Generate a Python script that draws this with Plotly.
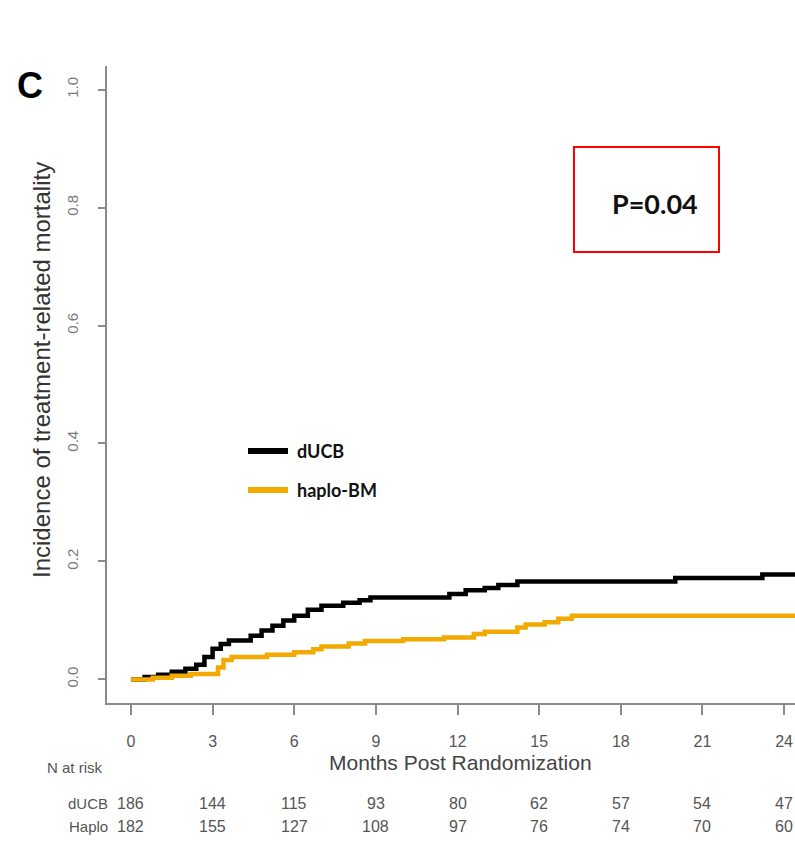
import plotly.graph_objects as go

# ---- data ----
ducb_t = [0, 0.5, 1.0, 1.5, 2.0, 2.4, 2.7, 3.0, 3.3, 3.6, 4.4, 4.8, 5.2, 5.6, 6.0, 6.5, 7.0, 7.8, 8.4, 8.8,
          11.7, 12.3, 13.0, 13.5, 14.2, 20.0, 23.2, 24.6]
ducb_v = [0, 0.004, 0.008, 0.013, 0.018, 0.025, 0.038, 0.052, 0.060, 0.066, 0.074, 0.083, 0.091, 0.100, 0.108,
          0.118, 0.125, 0.130, 0.134, 0.139, 0.145, 0.151, 0.155, 0.160, 0.166, 0.172, 0.178, 0.178]
haplo_t = [0, 0.8, 1.5, 2.2, 3.2, 3.4, 3.7, 5.0, 6.0, 6.7, 7.0, 8.0, 8.6, 10.0, 11.5, 12.6, 13.0, 14.2, 14.5,
           15.2, 15.7, 16.2, 24.6]
haplo_v = [0, 0.003, 0.006, 0.009, 0.020, 0.033, 0.038, 0.042, 0.046, 0.051, 0.056, 0.061, 0.065, 0.068, 0.071,
           0.077, 0.081, 0.088, 0.093, 0.097, 0.103, 0.108, 0.108]

x_ticks = [0, 3, 6, 9, 12, 15, 18, 21, 24]
y_ticks = [0.0, 0.2, 0.4, 0.6, 0.8, 1.0]
y_tick_labels = ["0.0", "0.2", "0.4", "0.6", "0.8", "1.0"]
risk_ducb = [186, 144, 115, 93, 80, 62, 57, 54, 47]
risk_haplo = [182, 155, 127, 108, 97, 76, 74, 70, 60]
series_names = ["dUCB", "haplo-BM"]
series_colors = ["#000000", "#F2A900"]
row_labels = ["dUCB", "Haplo"]
p_text = "P=0.04"

GRAY = "#555555"
AX = "#8a8a8a"
W, H = 795, 841
L, R, T, B = 107, 0, 66, 138
pw, ph = W - L - R, H - T - B


def px_x(px):
    return (px - L) / pw


def px_y(py):
    return (H - B - py) / ph


def note(x, y, text, size, color=GRAY, family="Liberation Sans", weight="normal",
         xanchor="center", xref="paper", angle=0):
    fig.add_annotation(xref=xref, yref="paper", x=x, y=y, text=text, showarrow=False,
                       xanchor=xanchor, yanchor="middle", textangle=angle,
                       font=dict(family=family, size=size, color=color, weight=weight))


fig = go.Figure()
fig.add_trace(go.Scatter(x=ducb_t, y=ducb_v, mode="lines", name=series_names[0],
                         line=dict(color=series_colors[0], width=4.5, shape="hv")))
fig.add_trace(go.Scatter(x=haplo_t, y=haplo_v, mode="lines", name=series_names[1],
                         line=dict(color=series_colors[1], width=4.5, shape="hv")))

fig.update_layout(
    width=W, height=H,
    margin=dict(l=L, r=R, t=T, b=B, autoexpand=False),
    paper_bgcolor="white", plot_bgcolor="white",
    showlegend=False,
    xaxis=dict(range=[-0.88, 24.4], tickvals=x_ticks, ticktext=[str(v) for v in x_ticks],
               showgrid=False, zeroline=False, showline=True, linecolor=AX, linewidth=2,
               ticks="outside", ticklen=10, tickcolor=AX, tickwidth=1.5,
               ticklabelstandoff=13,
               tickfont=dict(family="Liberation Sans", size=16, color=GRAY)),
    yaxis=dict(range=[-0.04, 1.04], tickvals=y_ticks, ticktext=y_tick_labels, tickangle=-90,
               showgrid=False, zeroline=False, showline=True, linecolor=AX, linewidth=2,
               ticks="outside", ticklen=7, tickcolor=AX, tickwidth=1.5,
               ticklabelstandoff=14,
               tickfont=dict(family="Liberation Sans", size=15, color="#7a7a7a")),
)

# Legend (drawn manually: 40px thick key lines + bold labels)
for i, (name, col) in enumerate(zip(series_names, series_colors)):
    ly = [451, 490][i]
    fig.add_shape(type="line", xref="paper", yref="paper",
                  x0=px_x(248), x1=px_x(288), y0=px_y(ly), y1=px_y(ly),
                  line=dict(color=col, width=6))
    note(px_x(295), px_y(ly), name, 18, color="#111111", family="Lato", weight="bold", xanchor="left")

# P-value box
fig.add_shape(type="rect", xref="paper", yref="paper",
              x0=px_x(574), x1=px_x(719), y0=px_y(252), y1=px_y(147),
              line=dict(color="#FF0000", width=2), fillcolor="rgba(0,0,0,0)")
note(px_x(655), px_y(204), p_text, 27, color="#111111", family="Lato", weight="bold")

# Panel letter
note(px_x(30), px_y(86), "C", 36, color="#000000", weight="bold")

# Axis titles
note(px_x(41), px_y(370), "Incidence of treatment-related mortality", 24, color="#333333", angle=-90)
note(px_x(460), px_y(762), "Months Post Randomization", 21, color="#444444")

# Number at risk table
note(px_x(45), px_y(767), "N at risk", 15, xanchor="left")
for lbl, row, py in [(row_labels[0], risk_ducb, 803), (row_labels[1], risk_haplo, 826)]:
    note(px_x(110), px_y(py), lbl, 15, xanchor="right")
    for t, n in zip(x_ticks, row):
        note(t, px_y(py), str(n), 16, xref="x")

fig.write_html("out.html")
